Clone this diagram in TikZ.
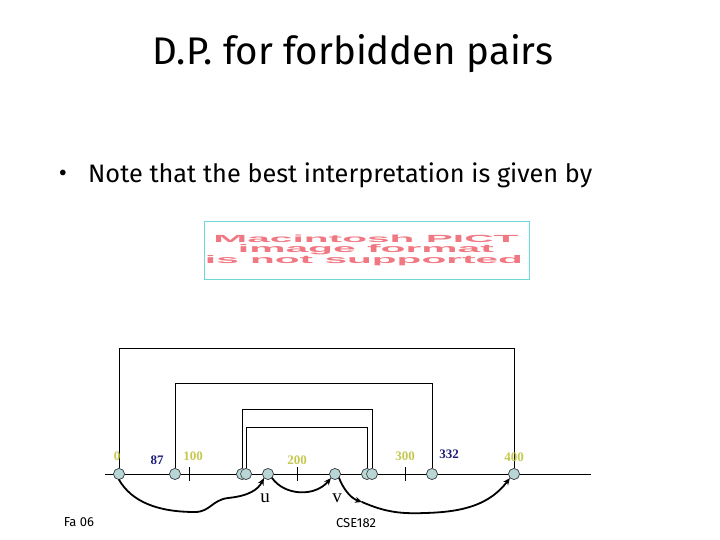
\documentclass[tikz,border=0pt]{standalone}
\usepackage{fontspec}
\setmainfont{Liberation Serif}
\newfontfamily\titlefont{Fira Sans}
\newfontfamily\pictfont{Liberation Sans}
\usetikzlibrary{arrows.meta}
\definecolor{ygreen}{RGB}{196,200,80}
\definecolor{navyc}{RGB}{30,30,120}
\definecolor{dotfill}{RGB}{184,214,214}
\definecolor{pictred}{RGB}{240,120,130}
\definecolor{pictframe}{RGB}{110,215,215}
\begin{document}
\begin{tikzpicture}[x=1pt,y=-1pt,
  pt/.style={circle, draw=black!75, fill=dotfill, minimum size=11pt, inner sep=0pt, line width=0.6pt},
  numg/.style={font=\bfseries\fontsize{13}{13}\selectfont, text=ygreen, inner sep=0pt},
  numb/.style={font=\bfseries\fontsize{13}{13}\selectfont, text=navyc, inner sep=0pt},
  bracket/.style={draw, line width=0.8pt},
  curve/.style={line width=1.8pt, line cap=round, -{Stealth[length=7pt,width=6pt]}},
  smalltxt/.style={font=\titlefont\fontsize{13}{13}\selectfont, inner sep=0pt},
  pictline/.style={text=pictred, inner sep=0pt, anchor=base, font=\pictfont\bfseries}
]
\useasboundingbox (0,0) rectangle (720,540);

% title and bullet
\node[font=\titlefont\fontsize{38.5}{38.5}\selectfont, inner sep=0pt] (title) at (353,54) {D.P. for forbidden pairs};
\node[font=\titlefont\fontsize{25}{25}\selectfont, inner sep=0pt] (bul) at (63,176) {\textbullet};
\node[font=\titlefont\fontsize{25.3}{25.3}\selectfont, inner sep=0pt, anchor=west] (note) at (88,175) {Note that the best interpretation is given by};

% picture placeholder
\node[draw=pictframe, line width=1pt, minimum width=325pt, minimum height=57pt, inner sep=0pt] (pict) at (366.5,250.5) {};
\node[pictline] (l1) at (366,242.5) {\resizebox{305pt}{7.5pt}{Macintosh PICT}};
\node[pictline] (l2) at (366,252.5) {\resizebox{256pt}{8pt}{image format}};
\node[pictline] (l3) at (364,263) {\resizebox{318pt}{8pt}{is not supported}};

% axis
\coordinate (axl) at (105,474);
\coordinate (axr) at (591,474);
\draw[line width=0.8pt] (axl) -- (axr);
\foreach \x in {189,297,405} \draw[line width=0.8pt] (\x,467) -- (\x,481);

% points
\node[pt] (p0) at (119,474) {};
\node[pt] (p87) at (175,474) {};
\node[pt] (a1) at (242,474) {};
\node[pt] (a2) at (246,474) {};
\node[pt] (pu) at (268,474) {};
\node[pt] (pv) at (335,474) {};
\node[pt] (b1) at (367,474) {};
\node[pt] (b2) at (372,474) {};
\node[pt] (p332) at (432,474) {};
\node[pt] (p400) at (514,474) {};

% brackets
\coordinate (t1) at (514,348);
\coordinate (t2) at (432,383);
\coordinate (t3) at (372,409);
\coordinate (t4) at (367,427);
\draw[bracket] (p0.north) |- (t1) -- (p400.north);
\draw[bracket] (p87.north) |- (t2) -- (p332.north);
\draw[bracket] (a1.north) |- (t3) -- (b2.north);
\draw[bracket] (a2.north) |- (t4) -- (b1.north);
% redraw circles on top
\foreach \n in {p0,p87,a1,a2,pu,pv,b1,b2,p332,p400}
  \node[pt] at (\n) {};

% labels
\node[numg] (n0) at (117,456) {0};
\node[numb] (n87) at (157,460) {87};
\node[numg] (n100) at (193,456) {100};
\node[numg] (n200) at (297,460) {200};
\node[numg] (n300) at (405,456) {300};
\node[numb] (n332) at (449,454) {332};
\node[numg] (n400) at (514,457) {400};

\node[font=\fontsize{19}{19}\selectfont, inner sep=0pt] (lu) at (265,498) {u};
\node[font=\fontsize{19}{19}\selectfont, inner sep=0pt] (lv) at (337,498) {v};

% curves
\coordinate (mid) at (362,502);
\draw[curve] (p0.south) .. controls (132,502) and (158,512) .. (195,512)
   .. controls (210,512) and (212,500) .. (228,498)
   .. controls (248,496) and (258,490) .. (pu.south west);
\draw[curve] (pu.south east) .. controls (285,496) and (315,497) .. (pv.south west);
\draw[curve] (pv.south east) .. controls (343,488) and (350,498) .. (mid);
\draw[curve] (mid) .. controls (385,512) and (400,514) .. (425,513)
   .. controls (465,512) and (490,504) .. (p400.south west);

% footer
\node[smalltxt] (cse) at (356,523) {CSE182};
\node[smalltxt] (fa) at (79,522) {Fa 06};
\end{tikzpicture}
\end{document}
